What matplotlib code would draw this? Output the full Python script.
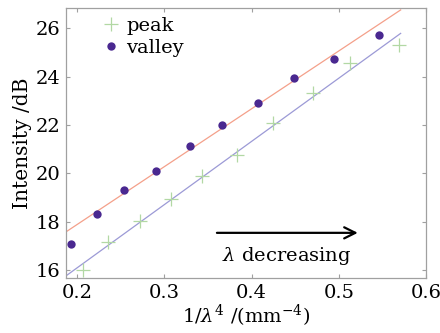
import numpy as np
import matplotlib
matplotlib.use("Agg")
from matplotlib import pyplot as plt

plt.rcParams["font.family"] = ["DejaVu Serif"]
plt.rcParams["mathtext.fontset"] = "dejavuserif"

# peak points (+)
peak_x = [0.207, 0.235, 0.272, 0.308, 0.343, 0.383, 0.424, 0.470, 0.513, 0.569]
peak_y = [16.0, 17.16, 18.03, 18.92, 19.88, 20.75, 22.09, 23.31, 24.55, 25.31]

# valley points (dots)
valley_x = [0.193, 0.222, 0.254, 0.290, 0.329, 0.366, 0.407, 0.449, 0.495, 0.546]
valley_y = [17.07, 18.34, 19.30, 20.09, 21.14, 22.0, 22.92, 23.94, 24.74, 25.72]

# fitted lines, end points
fit_x = [0.187, 0.571]
valley_fit = [17.58, 26.76]
peak_fit = [15.76, 25.79]

fig, ax = plt.subplots(figsize=(4.4, 3.33), dpi=100)
fig.subplots_adjust(left=0.15, right=0.968, top=0.976, bottom=0.165)

ax.plot(fit_x, valley_fit, color="#f4a08a", lw=0.9)
ax.plot(fit_x, peak_fit, color="#9c9ad6", lw=0.9)
ax.plot(peak_x, peak_y, "+", color="#b2d8a4", ms=10, mew=0.9, label="peak")
ax.plot(valley_x, valley_y, "o", color="#4a2890", ms=6, mec="none", label="valley")

ax.set_xlim(0.187, 0.6)
ax.set_ylim(15.67, 26.84)
ax.set_xticks([0.2, 0.3, 0.4, 0.5, 0.6])
ax.set_xticklabels(["0.2", "0.3", "0.4", "0.5", "0.6"])
ax.set_yticks([16, 18, 20, 22, 24, 26])

for s in ax.spines.values():
    s.set_color("#a0a0a0")
    s.set_linewidth(0.9)
ax.tick_params(direction="in", length=3, width=0.8, color="#a0a0a0",
               labelsize=14, top=True, right=True, pad=4)

ax.set_xlabel(r"1/$\lambda^4$ /(mm$^{-4}$)", fontsize=14, labelpad=1)
ax.set_ylabel("Intensity /dB", fontsize=14.5, labelpad=3)

ax.annotate("", xy=(0.525, 17.54), xytext=(0.357, 17.54),
            arrowprops=dict(arrowstyle="->", color="black", lw=1.6,
                            mutation_scale=20))
ax.text(0.44, 16.6, r"$\lambda$ decreasing", fontsize=14, ha="center", va="center")

ax.legend(loc="upper left", frameon=False, fontsize=14, handletextpad=0.2,
          borderaxespad=0.2, labelspacing=0.2, handlelength=1.2,
          bbox_to_anchor=(0.06, 1.01))

fig.savefig("out.png", dpi=100)
